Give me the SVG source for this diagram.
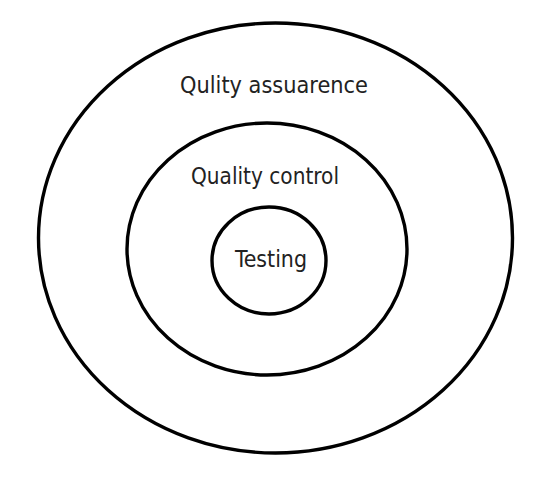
<svg xmlns="http://www.w3.org/2000/svg" width="549" height="485" viewBox="0 0 549 485">
<style>
.ring{fill:none;stroke:#000;stroke-width:3.4}
.lbl{font-family:"DejaVu Sans Condensed","DejaVu Sans","Liberation Sans",sans-serif;font-stretch:condensed;font-size:23.5px;fill:#222;text-anchor:middle}
</style>
<rect width="549" height="485" fill="#fff"/>
<g id="quality-assurance">
<ellipse class="ring" cx="275.5" cy="238" rx="237" ry="215"/>
<text class="lbl" x="274" y="93" textLength="188" lengthAdjust="spacingAndGlyphs">Qulity assuarence</text>
</g>
<g id="quality-control">
<ellipse class="ring" cx="267" cy="249" rx="140" ry="126"/>
<text class="lbl" x="265" y="184" textLength="148" lengthAdjust="spacingAndGlyphs">Quality control</text>
</g>
<g id="testing">
<ellipse class="ring" cx="269" cy="260.5" rx="57" ry="53.5"/>
<text class="lbl" x="271" y="267" textLength="72" lengthAdjust="spacingAndGlyphs">Testing</text>
</g>
<g id="connectors"/>
</svg>
